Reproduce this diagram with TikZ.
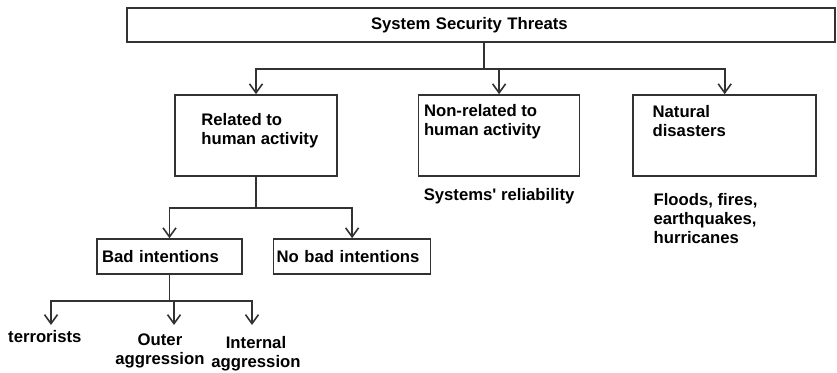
\documentclass[tikz,border=0pt]{standalone}
\usepackage{fontspec}
\setmainfont{Liberation Sans}
\usepackage{xcolor}
\definecolor{lineGray}{RGB}{50, 50, 50}
\usepackage{tikz}
\usetikzlibrary{positioning, arrows.meta}
\newcommand{\threatfont}{\fontsize{16.7}{19}\selectfont\bfseries}
\tikzset{
    threatbox/.style={
        draw=lineGray,
        line width=1.6pt,
        rectangle,
        inner sep=0pt,
        font=\threatfont
    },
    threattext/.style={
        font=\threatfont,
        align=left,
        inner sep=0pt
    },
    connector/.style={
        draw=lineGray,
        line width=1.6pt
    },
    arrow/.style={
        -{Straight Barb[length=9pt,width=13pt]},
        line width=1.6pt,
        lineGray
    }
}

\begin{document}
\begin{tikzpicture}[x=1pt, y=1pt]

\useasboundingbox (0,0) rectangle (837,372);

% ---------------------------------------------------------
% Nodes
% ---------------------------------------------------------

% Top: all threats
\node[threatbox, minimum width=708pt, minimum height=34pt,
      text width=220pt, inner xsep=244pt, align=left] (threats) at (481,347)
    {System Security Threats};

% Second row: three kinds of threats
\node[threatbox, minimum width=162pt, minimum height=81pt] (human) at (256,236.5) {};
\node[threatbox, minimum width=161pt, minimum height=81pt, right=80pt of human] (nonhuman) {};
\node[threatbox, minimum width=183pt, minimum height=81pt, right=52pt of nonhuman] (natural) {};

\node[threattext, anchor=west] (humanText) at ([shift={(27,5)}]human.west)
    {Related to\\human activity};
\node[threattext, anchor=west] (nonhumanText) at ([shift={(6,14)}]nonhuman.west)
    {Non-related to\\human activity};
\node[threattext, anchor=west] (naturalText) at ([shift={(20,14)}]natural.west)
    {Natural\\disasters};

% Examples under the boxes
\node[threattext, below=11pt of nonhuman] (reliability) {Systems\textquotesingle{} reliability};
\node[threattext, anchor=north west] (floods) at ([shift={(21,-16)}]natural.south west)
    {Floods, fires,\\earthquakes,\\hurricanes};

% Third row: intentions
\node[threatbox, minimum width=145pt, minimum height=35pt,
      text width=135pt, inner xsep=5pt, align=left] (bad) at (169.5,115.5)
    {Bad intentions};
\node[threatbox, minimum width=157pt, minimum height=35pt,
      text width=151pt, inner xsep=3pt, align=left, right=30pt of bad] (nobad)
    {No bad intentions};

% Bottom: kinds of bad intentions
\node[threattext, anchor=west] (terrorists) at (8,35) {terrorists};
\node[threattext, align=center] (outer) at (160,21.5) {Outer\\aggression};
\node[threattext, align=center] (internal) at (256,18.5) {Internal\\aggression};

% ---------------------------------------------------------
% Arrows
% ---------------------------------------------------------

% Threats -> three kinds
\coordinate (topSplit) at (484,303);
\draw[connector] (threats.south -| topSplit) -- (topSplit);
\draw[arrow] (topSplit) -| (human.north);
\draw[arrow] (topSplit) -| (nonhuman.north);
\draw[arrow] (topSplit) -| (natural.north);

% Human activity -> intentions
\coordinate[below=31pt of human.south] (humanSplit);
\draw[connector] (human.south) -- (humanSplit);
\draw[arrow] (humanSplit) -| (bad.north);
\draw[arrow] (humanSplit) -| (nobad.north);

% Bad intentions -> bottom row
\coordinate[below=26pt of bad.south] (badSplit);
\coordinate (terroristsTip) at (51,47);
\coordinate (outerTip) at (174,47);
\coordinate (internalTip) at (252,47);
\draw[connector] (bad.south) -- (badSplit);
\draw[arrow] (badSplit) -| (terroristsTip);
\draw[arrow] (badSplit) -| (outerTip);
\draw[arrow] (badSplit) -| (internalTip);

\end{tikzpicture}
\end{document}
